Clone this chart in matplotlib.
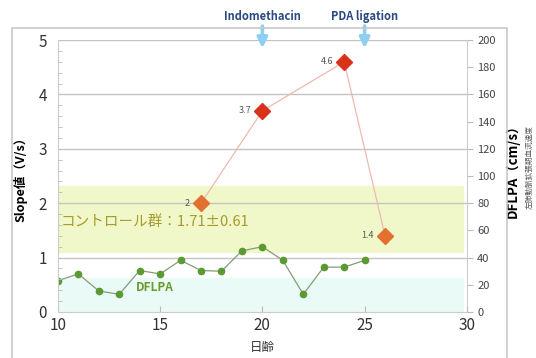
import matplotlib
matplotlib.use('Agg')
import numpy as np
from matplotlib import pyplot as plt
from matplotlib.patches import Rectangle

plt.rcParams['font.family'] = ['Noto Sans CJK JP', 'DejaVu Sans']

# ---------- DATA ------------------------------------------------------------
slope_days = [17, 20, 24, 26]
slope_vals = [2.0, 3.7, 4.6, 1.4]
slope_colors = ['#e2712f', '#d8321a', '#d8321a', '#e2712f']

dflpa_days = [10, 11, 12, 13, 14, 15, 16, 17, 18, 19, 20, 21, 22, 23, 24, 25]
dflpa_vals = [23, 28, 15.5, 13, 30.5, 28, 38, 30.5, 30, 45, 48, 38, 13, 33, 33, 38]

control_mean = 1.71
control_sd = 0.61
dflpa_band = 25

events = ['Indomethacin', 'PDA ligation']
event_days = [20, 25]

fig = plt.figure(figsize=(5.36, 3.58), dpi=100)
fig.patches.append(Rectangle((0.022, -0.02), 0.924, 0.942, transform=fig.transFigure,
                             fill=False, edgecolor='#c8c8c8', lw=1.2))
ax = fig.add_axes([0.108, 0.1285, 0.763, 0.7595])
ax2 = ax.twinx()

ax.set_xlim(10, 30)
ax.set_ylim(0, 5)
ax2.set_ylim(0, 200)
ratio = 200 / 5

# bands (both on the back axis)
ax2.axhspan((control_mean - control_sd) * ratio, (control_mean + control_sd) * ratio,
            xmin=0, xmax=0.99, color='#f0f7c8', zorder=0)
ax2.axhspan(0, dflpa_band, xmin=0, xmax=0.99, color='#eafaf6', zorder=0)
for y in [1, 2, 3, 4, 5]:
    ax2.axhline(y * ratio, color='#c4c4c4', lw=1, zorder=1)

# DFLPA series
ax2.plot(dflpa_days, dflpa_vals, '-', color='#8a9a78', lw=0.9, zorder=2)
ax2.plot(dflpa_days, dflpa_vals, 'o', color='#5a9a32', ms=4.5, zorder=3)

ax.set_zorder(ax2.get_zorder() + 1)
ax.patch.set_visible(False)

# slope series
ax.plot(slope_days, slope_vals, '-', color='#f0b8b0', lw=0.9, zorder=3)
for d, v, c in zip(slope_days, slope_vals, slope_colors):
    ax.plot(d, v, 'D', color=c, ms=8, mec=c, zorder=4)
    lab = '{:g}'.format(v)
    ax.text(d - 0.55, v, lab, fontsize=6.5, color='#555555', ha='right', va='center',
            zorder=5)

ax.text(10.15, 1.65, 'コントロール群：1.71±0.61', fontsize=10.5, color='#a89a2c',
        va='center', ha='left', zorder=5)
ax.text(13.8, 0.45, 'DFLPA', fontsize=8.5, color='#6a9a2a', fontweight='bold',
        va='center', ha='left', zorder=5)

# event arrows
for name, d in zip(events, event_days):
    ax.annotate('', xy=(d, 4.8), xytext=(d, 5.31), xycoords='data',
                arrowprops=dict(arrowstyle='-|>', color='#8fd0f2', lw=2.6,
                                mutation_scale=15), annotation_clip=False)
    ax.text(d, 5.44, name, fontsize=8, color='#2a4a80', fontweight='bold',
            ha='center', va='center', clip_on=False)

# axes styling
ax.set_xticks([10, 15, 20, 25, 30])
ax.set_yticks([0, 1, 2, 3, 4, 5])
ax.set_yticks(np.arange(0, 5.01, 0.2), minor=True)
ax.tick_params(axis='y', which='major', length=0, labelsize=11, pad=8, colors='#333333')
ax.tick_params(axis='y', which='minor', length=3, direction='in', color='#bbbbbb')
ax.tick_params(axis='x', length=4, direction='in', color='#bbbbbb', labelsize=11,
               colors='#333333')
ax2.set_yticks(np.arange(0, 201, 20))
ax2.tick_params(axis='y', length=4, color='#bbbbbb', labelsize=8, colors='#444444')

for a in (ax, ax2):
    for s in a.spines.values():
        s.set_visible(False)
ax.spines['left'].set_visible(True)
ax.spines['left'].set_color('#cccccc')
ax.spines['bottom'].set_visible(True)
ax.spines['bottom'].set_color('#cccccc')
ax2.spines['right'].set_visible(True)
ax2.spines['right'].set_color('#cccccc')

ax.set_xlabel('日齢', fontsize=9, color='#333333', labelpad=5)
ax.set_ylabel('Slope値（V/s）', fontsize=9, fontweight='bold', labelpad=8)
ax2.set_ylabel('DFLPA（cm/s）', fontsize=9.5, fontweight='bold')
ax2.yaxis.set_label_coords(1.095, 0.53)
fig.text(0.988, 0.534, '左肺動脈拡張期血流速度', rotation=90, fontsize=5.5,
         color='#555555', ha='center', va='center')

fig.savefig('out.png', dpi=100)
